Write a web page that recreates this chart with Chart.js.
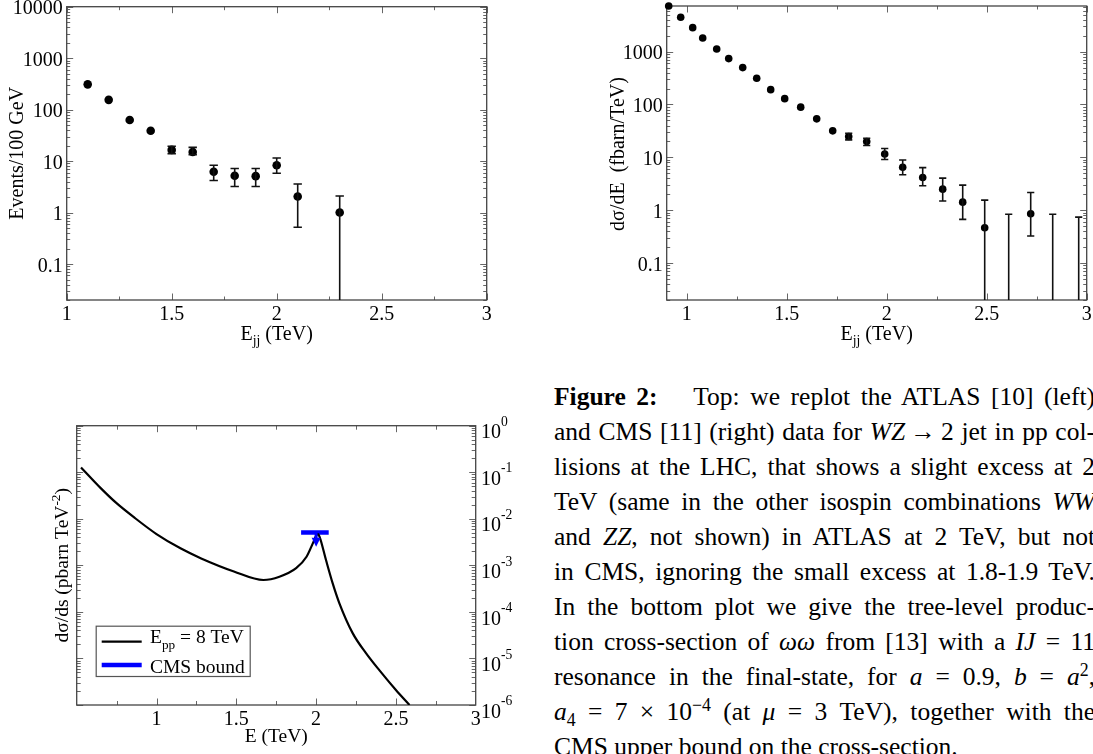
<!DOCTYPE html>
<html><head><meta charset="utf-8">
<script src="https://cdn.jsdelivr.net/npm/chart.js@4.4.1/dist/chart.umd.min.js"></script>
<style>
html,body{margin:0;padding:0;background:#fff;}
body{width:1093px;height:754px;overflow:hidden;position:relative;font-family:"Liberation Serif","Times New Roman",serif;}
canvas{position:absolute;}
#c1{left:0;top:0;}
#c2{left:540px;top:0;}
#c3{left:0;top:380px;}
#cap{position:absolute;left:554px;top:378.5px;width:541px;font-size:25.5px;line-height:35px;color:#000;}
.ln{height:35px;white-space:nowrap;text-align:justify;text-align-last:justify;}
.ln.last{text-align-last:left;text-align:left;}
sup,sub{font-size:70%;line-height:0;}
</style></head><body>
<canvas id="c1" width="540" height="350"></canvas>
<canvas id="c2" width="553" height="350"></canvas>
<canvas id="c3" width="540" height="374"></canvas>
<div id="cap">
<div class="ln"><b>Figure 2:</b>&emsp; Top: we replot the ATLAS [10] (left)</div>
<div class="ln">and CMS [11] (right) data for <i>WZ</i>&thinsp;→&thinsp;2 jet in pp col-</div>
<div class="ln">lisions at the LHC, that shows a slight excess at 2</div>
<div class="ln">TeV (same in the other isospin combinations <i>WW</i></div>
<div class="ln">and <i>ZZ</i>, not shown) in ATLAS at 2 TeV, but not</div>
<div class="ln">in CMS, ignoring the small excess at 1.8-1.9 TeV.</div>
<div class="ln">In the bottom plot we give the tree-level produc-</div>
<div class="ln">tion cross-section of <i>ωω</i> from [13] with a <i>IJ</i> = 11</div>
<div class="ln">resonance in the final-state, for <i>a</i> = 0.9, <i>b</i> = <i>a</i><sup>2</sup>,</div>
<div class="ln"><i>a</i><sub>4</sub> = 7 × 10<sup>−4</sup> (at <i>μ</i> = 3 TeV), together with the</div>
<div class="ln last">CMS upper bound on the cross-section.</div>
</div>
<script>
// ---------- DATA ----------
// Top-left: ATLAS events per 100 GeV
const atlasE  = [1.1, 1.2, 1.3, 1.4, 1.5, 1.6, 1.7, 1.8, 1.9, 2.0, 2.1, 2.3];
const atlasN  = [310, 155, 63, 39, 16.5, 15, 6.2, 5.2, 5.1, 8.3, 2.05, 1.0];
const atlasLo = [null, null, null, null, 14, 13.3, 4.2, 3.2, 3.2, 5.8, 0.52, 0];
const atlasHi = [null, null, null, null, 19.4, 18.5, 8.3, 7.2, 7.2, 11.5, 3.6, 2.1];

// Top-right: CMS dsigma/dE (fbarn/TeV)
const cmsE  = [0.91, 0.97, 1.03, 1.08, 1.15, 1.21, 1.28, 1.35, 1.42, 1.49, 1.57, 1.65, 1.73,
               1.81, 1.90, 1.99, 2.08, 2.18, 2.28, 2.38, 2.49, 2.61, 2.72, 2.83, 2.96];
const cmsY  = [7300, 4470, 2840, 1810, 1125, 738, 499, 314, 191, 129, 89, 53.5, 31.7,
               24.8, 20, 11.6, 6.5, 4.15, 2.5, 1.42, 0.465, null, 0.855, null, null];
const cmsLo = [null, null, null, null, null, null, null, null, null, null, null, null, null,
               21.4, 16.7, 9.1, 4.7, 2.9, 1.49, 0.67, 0, 0, 0.324, 0, 0];
const cmsHi = [null, null, null, null, null, null, null, null, null, null, null, null, null,
               28.6, 23, 14.7, 8.9, 6.4, 4.05, 2.98, 1.55, 0.84, 2.16, 0.84, 0.74];

// Bottom: d sigma/ds (pbarn TeV^-2), E_pp = 8 TeV
const curveE = [0.527, 0.652, 0.746, 0.86, 1.0, 1.15, 1.28, 1.485, 1.67, 1.77, 1.875, 1.94, 1.98,
                2.0, 2.012, 2.022, 2.062, 2.104, 2.146, 2.229, 2.3125, 2.396, 2.5, 2.585];
const curveY = [0.127, 0.045, 0.0222, 0.0107, 0.0047, 0.00232, 0.00141, 0.00074, 0.000485, 0.00057,
                0.00087, 0.00153, 0.0030, 0.0043, 0.0047, 0.0041, 0.0013, 0.00041, 0.000153,
                3.5e-5, 1.3e-5, 5.6e-6, 2.1e-6, 1.0e-6];
// CMS bound
const boundE = [1.906, 2.079];
const boundY = [5.1e-3, 5.1e-3];
const arrowE = 2.0;
const arrowTip = 2.5e-3;

// Tick labels
const xTickVals = [1, 1.5, 2, 2.5, 3];
const xMinorVals = [1.25, 1.75, 2.25, 2.75];
const xMinorVals2 = [0.75, 1.25, 1.75, 2.25, 2.75];
const yTicks1 = [0.1, 1, 10, 100, 1000, 10000];
const yTicks2 = [0.1, 1, 10, 100, 1000];
const yTicks3 = [1e-6, 1e-5, 1e-4, 1e-3, 1e-2, 1e-1, 1];

// ---------- HELPERS ----------
const SERIF = '"Liberation Serif","Times New Roman",serif';

function logTicks(min, max){
  const out = [];
  for (let e = Math.floor(Math.log10(min)); e <= Math.ceil(Math.log10(max)); e++){
    for (let k = 1; k <= 9; k++){
      const v = k * Math.pow(10, e);
      if (v >= min * 0.999 && v <= max * 1.001) out.push({v, major: k === 1});
    }
  }
  return out;
}

function drawRich(ctx, segs, x, y, size, align, rot){
  ctx.save();
  ctx.translate(x, y);
  if (rot) ctx.rotate(rot);
  ctx.textBaseline = 'alphabetic';
  ctx.fillStyle = '#000';
  const fontOf = s => `${s.b ? 'bold ' : ''}${s.i ? 'italic ' : ''}${(s.sub || s.sup) ? size * 0.68 : size}px ${SERIF}`;
  let w = 0;
  segs.forEach(s => { ctx.font = fontOf(s); s.w = ctx.measureText(s.t).width; w += s.w; });
  let cx = align === 'center' ? -w / 2 : (align === 'right' ? -w : 0);
  segs.forEach(s => {
    ctx.font = fontOf(s);
    const dy = s.sub ? size * 0.28 : (s.sup ? -size * (s.shift || 0.42) : 0);
    ctx.fillText(s.t, cx, dy);
    cx += s.w;
  });
  ctx.restore();
}

// frame + inward ticks on all four sides
const frameTicks = {
  id: 'frameTicks',
  beforeDatasetsDraw(chart, args, o){
    const {ctx, chartArea: a, scales} = chart;
    const xs = scales.x, ys = scales.y;
    ctx.save();
    ctx.strokeStyle = o.tickColor; ctx.lineWidth = 1;
    const seg = (x1, y1, x2, y2) => { ctx.beginPath(); ctx.moveTo(x1, y1); ctx.lineTo(x2, y2); ctx.stroke(); };
    const tx = (v, L) => { const p = Math.round(xs.getPixelForValue(v)) + 0.5; seg(p, a.bottom, p, a.bottom - L); seg(p, a.top, p, a.top + L); };
    o.xMajor.forEach(v => tx(v, o.major));
    o.xMinor.forEach(v => tx(v, o.minor));
    logTicks(ys.min, ys.max).forEach(t => {
      const p = Math.round(ys.getPixelForValue(t.v)) + 0.5;
      const L = t.major ? o.major : o.minor;
      seg(a.left, p, a.left + L, p); seg(a.right, p, a.right - L, p);
    });
    ctx.strokeStyle = o.frameColor; ctx.lineWidth = o.frameWidth;
    ctx.strokeRect(a.left, a.top, a.right - a.left, a.bottom - a.top);
    ctx.restore();
  }
};

// numeric tick labels placed through the chart's scales
const axisLabels = {
  id: 'axisLabels',
  afterDraw(chart, args, o){
    const {ctx, chartArea: a, scales: {x, y}} = chart;
    (o.x || []).forEach(v => drawRich(ctx, [{t: String(v)}], x.getPixelForValue(v), a.bottom + 19.6, o.size, 'center', 0));
    (o.y || []).forEach(v => drawRich(ctx, [{t: String(v)}], a.left - 4, y.getPixelForValue(v) + 7.6, o.size, 'right', 0));
    (o.sci || []).forEach(v => {
      const p = y.getPixelForValue(v);
      const ex = String(Math.round(Math.log10(v)));
      drawRich(ctx, [{t: '10'}, {t: ex, sup: true, shift: 0.62}], a.right + 5.3, p + 12.6, o.size, 'left', 0);
    });
  }
};

const errBars = {
  id: 'errBars',
  afterDatasetsDraw(chart, args, o){
    if (!o.x) return;
    const {ctx, chartArea: a, scales: {x, y}} = chart;
    ctx.save();
    ctx.beginPath(); ctx.rect(a.left, a.top - 2, a.right - a.left, a.bottom - a.top + 2); ctx.clip();
    ctx.strokeStyle = o.color; ctx.lineWidth = o.width;
    o.x.forEach((xv, i) => {
      const lo = o.lo[i], hi = o.hi[i];
      if (hi == null) return;
      const px = x.getPixelForValue(xv);
      const pyHi = y.getPixelForValue(hi);
      const pyLo = lo > 0 ? y.getPixelForValue(lo) : a.bottom + 2;
      ctx.beginPath();
      ctx.moveTo(px, pyHi); ctx.lineTo(px, pyLo);
      ctx.moveTo(px - o.cap, pyHi); ctx.lineTo(px + o.cap, pyHi);
      if (lo > 0){ ctx.moveTo(px - o.cap, pyLo); ctx.lineTo(px + o.cap, pyLo); }
      ctx.stroke();
    });
    ctx.restore();
  }
};

const richText = {
  id: 'richText',
  afterDraw(chart, args, o){
    (o.items || []).forEach(it => drawRich(chart.ctx, it.segs.map(s => Object.assign({}, s)), it.x, it.y, it.size, it.align, it.rot));
  }
};

const boundArrow = {
  id: 'boundArrow',
  afterDatasetsDraw(chart, args, o){
    if (o.x == null) return;
    const {ctx, scales: {x, y}} = chart;
    const px = x.getPixelForValue(o.x);
    const pFrom = y.getPixelForValue(o.from);
    const pTip = y.getPixelForValue(o.to);
    ctx.save();
    ctx.strokeStyle = o.color; ctx.fillStyle = o.color; ctx.lineWidth = 3;
    ctx.beginPath(); ctx.moveTo(px, pFrom); ctx.lineTo(px, pTip - 6); ctx.stroke();
    ctx.beginPath(); ctx.moveTo(px - 4.5, pTip - 9); ctx.lineTo(px + 4.5, pTip - 9); ctx.lineTo(px, pTip); ctx.closePath(); ctx.fill();
    ctx.restore();
  }
};

const legendBox = {
  id: 'legendBox',
  afterDraw(chart, args, o){
    if (!o.box) return;
    const ctx = chart.ctx; const b = o.box;
    ctx.save();
    ctx.fillStyle = '#fff'; ctx.fillRect(b.x, b.y, b.w, b.h);
    ctx.strokeStyle = '#555'; ctx.lineWidth = 1.2; ctx.strokeRect(b.x + 0.5, b.y + 0.5, b.w, b.h);
    o.entries.forEach(e => {
      ctx.strokeStyle = e.color; ctx.lineWidth = e.width;
      ctx.beginPath(); ctx.moveTo(e.x1, e.y); ctx.lineTo(e.x2, e.y); ctx.stroke();
      drawRich(ctx, e.segs.map(s => Object.assign({}, s)), e.tx, e.ty, o.size, 'left', 0);
    });
    ctx.restore();
  }
};

function xAxis(min, max, h){
  return {
    type: 'linear', min, max,
    afterFit(s){ s.height = h; },
    afterBuildTicks(s){ s.ticks = xTickVals.map(v => ({value: v})); },
    grid: {display: false, drawTicks: false}, border: {display: false},
    ticks: {display: false}
  };
}
function yAxis(min, max, w, ticks){
  return {
    type: 'logarithmic', min, max,
    afterFit(s){ s.width = w; },
    afterBuildTicks(s){ s.ticks = ticks.map(v => ({value: v})); },
    grid: {display: false, drawTicks: false}, border: {display: false},
    ticks: {display: false}
  };
}
const common = {responsive: false, animation: false, events: []};

// ---------- CHART 1 (ATLAS) ----------
new Chart(document.getElementById('c1'), {
  type: 'scatter',
  data: {datasets: [{
    data: atlasE.map((e, i) => ({x: e, y: atlasN[i]})),
    pointRadius: 4.3, pointBackgroundColor: '#000', pointBorderColor: '#000', pointBorderWidth: 0, showLine: false, clip: false
  }]},
  options: Object.assign({}, common, {
    layout: {padding: {left: 0, top: 6.7, right: 53.3, bottom: 0}},
    scales: {x: xAxis(1, 3, 50), y: yAxis(0.02, 10000, 66.7, yTicks1)},
    plugins: {
      legend: {display: false}, tooltip: {enabled: false},
      frameTicks: {xMajor: xTickVals, xMinor: xMinorVals, major: 6.5, minor: 3.5, tickColor: '#666', frameColor: '#444', frameWidth: 1.3},
      errBars: {x: atlasE, lo: atlasLo, hi: atlasHi, cap: 4.2, width: 1.6, color: '#111'},
      axisLabels: {x: xTickVals, y: yTicks1, size: 20},
      richText: {items: [
        {segs: [{t: 'E'}, {t: 'jj', sub: true}, {t: ' (TeV)'}], x: 276.7, y: 339.5, size: 20, align: 'center'},
        {segs: [{t: 'Events/100 GeV'}], x: 23.3, y: 153.3, size: 20, align: 'center', rot: -Math.PI / 2}
      ]}
    }
  }),
  plugins: [frameTicks, errBars, axisLabels, richText]
});

// ---------- CHART 2 (CMS) ----------
new Chart(document.getElementById('c2'), {
  type: 'scatter',
  data: {datasets: [{
    data: cmsE.map((e, i) => ({x: e, y: cmsY[i]})).filter(p => p.y != null),
    pointRadius: 3.8, pointBackgroundColor: '#000', pointBorderColor: '#000', pointBorderWidth: 0, showLine: false, clip: false
  }]},
  options: Object.assign({}, common, {
    layout: {padding: {left: 0, top: 6, right: 6.3, bottom: 0}},
    scales: {x: xAxis(0.9, 3, 50), y: yAxis(0.02, 7300, 126.7, yTicks2)},
    plugins: {
      legend: {display: false}, tooltip: {enabled: false},
      frameTicks: {xMajor: xTickVals, xMinor: xMinorVals, major: 6.5, minor: 3.5, tickColor: '#666', frameColor: '#444', frameWidth: 1.3},
      errBars: {x: cmsE, lo: cmsLo, hi: cmsHi, cap: 3.6, width: 1.6, color: '#111'},
      axisLabels: {x: xTickVals, y: yTicks2, size: 20},
      richText: {items: [
        {segs: [{t: 'E'}, {t: 'jj', sub: true}, {t: ' (TeV)'}], x: 336.7, y: 339.5, size: 20, align: 'center'},
        {segs: [{t: 'dσ/dE  (fbarn/TeV)'}], x: 84, y: 154, size: 20, align: 'center', rot: -Math.PI / 2}
      ]}
    }
  }),
  plugins: [frameTicks, errBars, axisLabels, richText]
});

// ---------- CHART 3 (cross-section) ----------
new Chart(document.getElementById('c3'), {
  type: 'scatter',
  data: {datasets: [
    {data: curveE.map((e, i) => ({x: e, y: curveY[i]})), showLine: true, borderColor: '#000', borderWidth: 2.2,
     pointRadius: 0, cubicInterpolationMode: 'monotone', fill: false},
    {data: boundE.map((e, i) => ({x: e, y: boundY[i]})), showLine: true, borderColor: '#0000ff', borderWidth: 4.5,
     pointRadius: 0, fill: false}
  ]},
  options: Object.assign({}, common, {
    layout: {padding: {left: 0, top: 45.7, right: 64.3, bottom: 0}},
    scales: {x: xAxis(0.5, 3, 49), y: yAxis(1e-6, 1, 76.7, yTicks3)},
    plugins: {
      legend: {display: false}, tooltip: {enabled: false},
      frameTicks: {xMajor: [1, 1.5, 2, 2.5], xMinor: xMinorVals2, major: 6.5, minor: 4, tickColor: '#666', frameColor: '#444', frameWidth: 1.3},
      boundArrow: {x: arrowE, from: boundY[0], to: arrowTip, color: '#0000ff'},
      axisLabels: {x: xTickVals, sci: yTicks3, size: 20},
      legendBox: {
        box: {x: 95.7, y: 245.7, w: 154, h: 50.3}, size: 19.5,
        entries: [
          {color: '#000', width: 2.2, x1: 101.7, x2: 141.7, y: 261.7, tx: 150, ty: 263.3,
           segs: [{t: 'E'}, {t: 'pp', sub: true}, {t: ' = 8 TeV'}]},
          {color: '#0000ff', width: 4.5, x1: 101.7, x2: 141.7, y: 285, tx: 150, ty: 292.5,
           segs: [{t: 'CMS bound'}]}
        ]
      },
      richText: {items: [
        {segs: [{t: 'E (TeV)'}], x: 276.2, y: 361.7, size: 19.5, align: 'center'},
        {segs: [{t: 'dσ/ds (pbarn TeV'}, {t: '-2', sup: true}, {t: ')'}], x: 68.3, y: 185.3, size: 19.5, align: 'center', rot: -Math.PI / 2}
      ]}
    }
  }),
  plugins: [frameTicks, boundArrow, axisLabels, legendBox, richText]
});
</script>
</body></html>
